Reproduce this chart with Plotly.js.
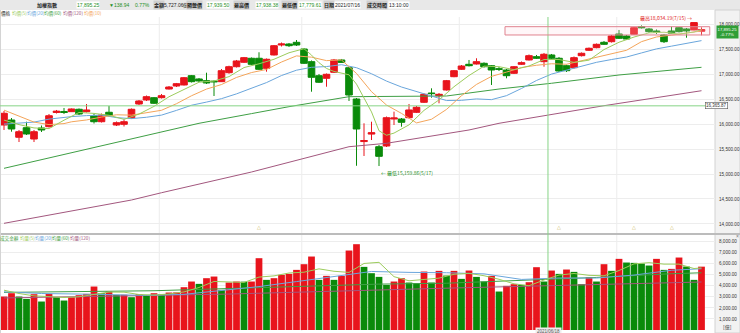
<!DOCTYPE html>
<html><head><meta charset="utf-8">
<script src="https://cdn.plot.ly/plotly-3.0.1.min.js"></script>
<style>html,body{margin:0;padding:0;background:#fff;}#chart{width:740px;height:333px;}</style>
</head><body><div id="chart"></div>
<script>
// ---- data (TAIEX daily, 2021/03/04 - 2021/07/16) ----
const dates = ['03/04','03/05','03/08','03/09','03/10','03/11','03/12','03/15','03/16','03/17','03/18','03/19','03/22','03/23','03/24','03/25','03/26','03/29','03/30','03/31',
'04/01','04/06','04/07','04/08','04/09','04/12','04/13','04/14','04/15','04/16','04/19','04/20','04/21','04/22','04/23','04/26','04/27','04/28','04/29','04/30',
'05/03','05/04','05/05','05/06','05/07','05/10','05/11','05/12','05/13','05/14','05/17','05/18','05/19','05/20','05/21','05/24','05/25','05/26','05/27','05/28','05/31',
'06/01','06/02','06/03','06/04','06/07','06/08','06/09','06/10','06/11','06/15','06/16','06/17','06/18','06/21','06/22','06/23','06/24','06/25','06/28','06/29','06/30',
'07/01','07/02','07/05','07/06','07/07','07/08','07/09','07/12','07/13','07/14','07/15','07/16'];
const open = [15982,16082,15736,15928,15701,15922,15948,16233,16253,16249,16297,16249,16168,16048,16237,15982,15996,16128,16403,16483,
16529,16529,16703,16763,16784,16970,16904,16870,16860,16850,17030,17150,17239,17319,17319,17118,17385,17585,17605,17639,
17505,17251,16970,16918,17038,17285,17130,16503,15650,15800,15547,15561,16102,16102,16128,16236,16437,16623,16569,16683,16950,
17098,17198,17204,17218,17170,17110,17084,17018,17198,17285,17351,17251,17385,17319,17170,17130,17371,17479,17531,17639,17651,
17806,17765,17800,17952,17906,17866,17786,17866,17932,17906,17886,17860];
const high = [16263,16122,15882,16048,15882,15972,16202,16283,16323,16313,16313,16403,16202,16212,16363,16052,16092,16313,16483,16573,
16543,16603,16763,16824,16944,16984,16924,17030,16874,17104,17170,17285,17345,17335,17439,17315,17585,17635,17625,17685,
17525,17275,17004,17014,17305,17305,17140,16523,16016,16048,15581,16152,16249,16122,16403,16363,16613,16717,16623,16884,17084,
17184,17285,17319,17238,17184,17144,17104,17164,17255,17395,17385,17425,17405,17345,17190,17355,17435,17535,17615,17665,17786,
17886,17786,17946,17976,17926,17896,17806,17952,17946,17926,18034.19,17939.50];
const low = [15882,15848,15641,15782,15641,15842,15932,16212,16202,16243,16182,16233,16012,16032,16152,15962,15952,16112,16383,16463,
16403,16513,16693,16743,16774,16834,16844,16804,16563,16844,17010,17134,17224,17184,17084,17050,17375,17555,17545,17565,
17204,16649,16824,16749,17024,17235,16463,15165,15361,15681,15159.86,15541,15982,15948,16112,16222,16423,16529,16417,16673,16940,
17084,17154,17194,17134,16784,17064,16918,17004,17184,17275,17305,17150,17305,17044,17044,17114,17355,17465,17519,17585,17635,
17705,17685,17786,17916,17826,17806,17625,17806,17836,17731,17880,17779.61];
const close = [16217,15902,15848,15802,15848,15882,16168,16259,16233,16303,16202,16283,16048,16182,16168,16028,16048,16297,16463,16549,
16417,16569,16743,16810,16930,16850,16864,16824,16848,17070,17150,17265,17331,17198,17098,17299,17571,17605,17571,17585,
17218,16938,16838,16998,17285,17236,16583,15902,15670,15827,15354,16128,16122,16036,16283,16337,16597,16611,16597,16870,17070,
17164,17170,17251,17150,17084,17098,16970,17150,17231,17371,17319,17399,17319,17064,17070,17331,17419,17519,17599,17599,17765,
17719,17705,17932,17932,17852,17840,17651,17820,17852,17866,18034.19,17895.25];
// turnover, 億元
const volume = [3026,3327,3026,2815,3237,2574,3267,2966,2664,2966,3146,3267,3930,3327,3478,3177,3190,2966,3237,3086,
3327,3237,3388,3400,3870,4382,4171,4684,4834,3629,4292,4382,4370,4382,6492,4533,4684,4985,5075,5437,
5949,6643,4533,4894,4533,4894,7185,7758,5708,5136,4804,4081,4382,4684,4292,4231,5286,4292,5347,4925,5347,
4623,5377,4804,4382,4894,3478,3990,4141,4081,4322,5678,4382,5377,5075,5467,5256,4141,4774,4382,5949,5347,
6432,6100,6070,6010,5829,6432,5437,5527,6552,5739,4533,5727.06];

// moving averages
const ma5Days = ['03/04','03/08','03/10','03/12','03/16','03/18','03/22','03/24','03/26','03/30','04/01','04/07','04/09','04/13','04/15','04/19','04/21','04/23','04/27','04/29','05/03','05/04','05/05','05/06','05/07','05/11','05/12','05/13','05/14','05/17','05/18','05/19','05/21','05/25','05/27','05/31','06/02','06/04','06/08','06/10','06/15','06/17','06/21','06/23','06/25','06/29','07/01','07/05','07/07','07/09','07/13','07/15','07/16'];
const ma5 = [16080,15990,15923,15910,16078,16233,16214,16177,16095,16201,16355,16548,16694,16839,16863,16951,17133,17208,17299,17429,17510,17383,17230,17115,17055,16988,16801,16535,16244,15867,15776,15820,15985,16275,16485,16749,16974,17161,17151,17090,17164,17294,17294,17237,17281,17493,17640,17744,17828,17841,17803,17845,17893];
const maDays = ['03/04','03/08','03/10','03/12','03/16','03/17','03/19','03/23','03/25','03/29','03/31','04/06','04/08','04/12','04/14','04/16','04/20','04/22','04/26','04/28','04/30','05/04','05/06','05/10','05/12','05/14','05/18','05/20','05/24','05/26','05/28','06/01','06/03','06/07','06/09','06/11','06/16','06/18','06/22','06/24','06/28','06/30','07/02','07/06','07/08','07/12','07/14','07/16'];
const ma10 = [16280,16160,16040,15990,16010,16046,16083,16141,16187,16179,16227,16277,16409,16568,16702,16793,16935,17033,17095,17244,17367,17341,17272,17285,17015,16650,16382,16214,16024,16097,16294,16569,16795,16956,17042,17134,17179,17209,17199,17267,17341,17408,17479,17652,17746,17782,17817,17867];
const ma20 = [16000,16020,16040,16100,16140,16150,16170,16180,16130,16110,16137,16180,16275,16378,16441,16510,16606,16721,16832,16973,17080,17138,17153,17190,17130,17009,16862,16743,16655,16556,16472,16476,16505,16490,16570,16714,16874,17002,17078,17155,17238,17294,17344,17426,17507,17562,17613,17673];
const ma60Days = ['03/04','03/24','04/07','04/13','04/22','04/29','05/11','05/20','05/28','06/08','06/18','07/01','07/16'];
const ma60 = [15114,15593,15882,16016,16210,16349,16549,16549,16563,16703,16818,16984,17138];
const ma120Days = ['03/04','03/29','04/06','04/22','05/11','05/18','06/02','06/08','06/29','07/16'];
const ma120 = [14012,14479,14625,15040,15547,15615,15882,16016,16369,16669];

const vma5Days = ['03/04','03/08','03/10','03/12','03/16','03/18','03/22','03/24','03/26','03/30','04/01','04/07','04/09','04/13','04/15','04/19','04/21','04/23','04/27','04/29','05/03','05/05','05/07','05/11','05/13','05/17','05/19','05/21','05/25','05/27','05/31','06/02','06/04','06/08','06/10','06/15','06/17','06/21','06/23','06/25','06/29','07/01','07/05','07/07','07/09','07/13','07/15','07/16'];
const vma5 = [3600,3300,3086,2984,2942,3002,3195,3430,3420,3210,3161,3255,3444,3842,4388,4322,4301,4784,4892,5154,5226,5527,5310,5208,6016,6118,4822,4449,4575,4690,5039,5124,4907,4587,4177,4002,4521,4967,5111,4943,4900,5377,5980,6088,5956,5955,5558,5616];
const vma20Days = ['03/04','03/11','03/18','03/24','03/31','04/09','04/16','04/23','04/30','05/07','05/14','05/21','05/28','06/04','06/11','06/21','06/28','07/05','07/12','07/16'];
const vma20 = [3450,3300,3250,3200,3134,3223,3586,3925,4378,4844,5293,5210,5178,5077,4572,4702,4699,4967,5399,5539];
const vma60Days = ['03/04','04/01','05/03','05/17','05/28','06/11','06/28','07/12','07/16'];
const vma60 = [3400,3550,3950,4150,4230,4484,4751,5088,5174];
const vma120Days = ['03/04','04/19','05/31','06/29','07/16'];
const vma120 = [2900,3250,3800,4150,4340];

const priceTicks = [14000,14500,15000,15500,16000,16500,17000,17500,18000];
const volTicks = [1000,2000,3000,4000,5000,6000,7000,8000];
const refLevel = 16365.87;
const highLabel = '最高18,034.19(7/15)';
const lowLabel = '最低15,159.86(5/17)';
const eventDays = ['04/23','06/21','07/05','07/12'];
const headerLabels = ['加權指數','17,895.25','▼138.94','0.77%','金額','5,727.06','億','開盤價','17,939.50','最高價','17,938.38','最低價','17,779.61','日期','2021/07/16','成交時間','13:10:00'];
const priceLegend = ['價格','均價(5)','均價(20)','均價(60)','均價(120)','均價(10)'];
const volLegend = ['成交金額','均量(5)','均量(20)','均量(60)','均量(120)'];

// ---- styling ----
const RED = '#e8141c', GREEN = '#0a8a0a';
const C5 = '#9ccc5c', C10 = '#f4a55a', C20 = '#6aa6dc', C60 = '#3f9f45', C120 = '#a3577e';
const px = v => v / 740, py = v => 1 - v / 333;
const fmt = v => v.toLocaleString('en-US', {minimumFractionDigits: 2, maximumFractionDigits: 2});
const NUM = 'Liberation Sans Narrow, Liberation Sans, Arial, sans-serif';
const CJK = 'Noto Sans CJK TC, Noto Sans CJK SC, sans-serif';

const volColors = volume.map((v, i) => (i === 0 || v >= volume[i - 1]) ? RED : GREEN);

const line = (x, y, color, ax) => ({type: 'scatter', mode: 'lines', x: x, y: y, xaxis: ax[0], yaxis: ax[1],
  line: {color: color, width: 1}, hoverinfo: 'skip'});

const traces = [
  line(ma120Days, ma120, C120, ['x', 'y']),
  line(ma60Days, ma60, C60, ['x', 'y']),
  line(maDays, ma20, C20, ['x', 'y']),
  line(maDays, ma10, C10, ['x', 'y']),
  line(ma5Days, ma5, C5, ['x', 'y']),
  {type: 'candlestick', x: dates, open: open, high: high, low: low, close: close, xaxis: 'x', yaxis: 'y',
   increasing: {line: {color: RED, width: 1}, fillcolor: RED},
   decreasing: {line: {color: GREEN, width: 1}, fillcolor: GREEN},
   whiskerwidth: 0, hoverinfo: 'skip'},
  {type: 'bar', x: dates, y: volume, xaxis: 'x2', yaxis: 'y2', marker: {color: volColors, line: {width: 0}}, hoverinfo: 'skip'},
  line(vma120Days, vma120, C120, ['x2', 'y2']),
  line(vma60Days, vma60, C60, ['x2', 'y2']),
  line(vma20Days, vma20, C20, ['x2', 'y2']),
  line(vma5Days, vma5, C5, ['x2', 'y2'])
];

const shapes = [
  {type: 'rect', xref: 'paper', yref: 'paper', x0: 0, x1: 1, y0: py(10), y1: 1, fillcolor: '#e8e8e8', line: {width: 0}, layer: 'below'},
  {type: 'rect', xref: 'paper', yref: 'paper', x0: px(715), x1: 1, y0: 0, y1: py(10), fillcolor: '#f2f2f2', line: {color: '#d2d2d2', width: 1}, layer: 'below'},
  {type: 'line', xref: 'paper', yref: 'paper', x0: 0, x1: 1, y0: py(234), y1: py(234), line: {color: '#bcbcbc', width: 2}},
  {type: 'line', xref: 'paper', yref: 'paper', x0: px(0.5), x1: px(0.5), y0: 0, y1: py(10), line: {color: '#d4d4d4', width: 1}}
];
[20.7, 39.7, 60.7, 81.7].forEach(g => shapes.push({type: 'line', xref: 'x', yref: 'paper', x0: g, x1: g, y0: py(331), y1: py(17),
  line: {color: '#ececec', width: 1}, layer: 'below'}));
shapes.push({type: 'line', xref: 'x', yref: 'paper', x0: 72.53, x1: 72.53, y0: py(331), y1: py(17), line: {color: '#86d486', width: 1}});
shapes.push({type: 'line', xref: 'paper', yref: 'y', x0: 0, x1: px(715), y0: refLevel, y1: refLevel, line: {color: '#86d486', width: 1}});
shapes.push({type: 'rect', xref: 'x', yref: 'y', x0: 66.8, x1: 94.1, y0: 17786, y1: 17952,
  line: {color: '#e0838f', width: 1}, fillcolor: 'rgba(255,215,222,0.22)'});

const ann = [];
const T = (text, x, y, o) => ann.push(Object.assign({text: text, x: x, y: y, xref: 'paper', yref: 'paper', showarrow: false,
  xanchor: 'center', yanchor: 'middle', font: {size: 5, color: '#333', family: CJK}}, o || {}));

// header
const hx = [47, 88, 119, 142, 159, 174, 185, 195, 218, 241, 267, 289, 310, 329, 347, 377, 399];
const hGreen = [1, 2, 3, 8, 10, 12];
const hLabel = [4, 7, 9, 11, 13, 15];
const hNum = [1, 2, 3, 5, 8, 10, 12, 14, 16];
headerLabels.forEach((t, i) => {
  const o = {font: {size: 5, family: hNum.includes(i) ? NUM : CJK,
    color: hGreen.includes(i) ? '#1f8f1f' : '#222', weight: (i === 0 || hLabel.includes(i)) ? 'bold' : 'normal'}, borderpad: 0};
  if (hLabel.includes(i)) { o.bgcolor = '#cfcfcf'; }
  if ([1, 8, 10, 12, 14, 16].includes(i)) { o.bgcolor = '#ffffff'; }
  T(t, px(hx[i]), py(5), o);
});
// price legend
const plx = [6, 19, 35.5, 53, 72.5, 92.5], plc = ['#222', C5, C20, C60, C120, C10];
priceLegend.forEach((t, i) => T(t, px(plx[i]), py(13.5), {font: {size: 4.6, family: CJK, color: plc[i]}, borderpad: 0}));
// volume legend
const vlx = [9, 27, 43.5, 61, 80], vlc = ['#3f9f45', C5, C20, C60, C120];
volLegend.forEach((t, i) => T(t, px(vlx[i]), py(238.5), {font: {size: 4.6, family: CJK, color: vlc[i]}, borderpad: 0}));

// high / low markers
ann.push({text: highLabel + ' →', x: '07/15', y: high[92], xref: 'x', yref: 'y', showarrow: false, xanchor: 'right', yanchor: 'bottom',
  xshift: 0, yshift: -1, font: {size: 5, color: '#e02020', family: CJK}});
ann.push({text: '← ' + lowLabel, x: '05/17', y: low[50], xref: 'x', yref: 'y', showarrow: false, xanchor: 'left', yanchor: 'top',
  xshift: 0, yshift: -1, font: {size: 5, color: '#1f8f1f', family: CJK}});
// right-side markers
T(fmt(close[93]) + '<br>-0.77%', px(727.5), py(31.5), {font: {size: 4.3, color: '#ffffff', family: NUM}, bgcolor: '#2f9e36', borderpad: 0.5});
ann.push({text: fmt(refLevel), x: px(727.5), y: refLevel, xref: 'paper', yref: 'y', showarrow: false, font: {size: 4.5, color: '#333', family: NUM},
  bgcolor: '#ffffff', bordercolor: '#555', borderwidth: 0.6, borderpad: 0.5});
T('[億]', px(727), py(327), {font: {size: 5, color: '#333', family: CJK}});
T('×', px(737), py(235.5), {font: {size: 5, color: '#777', family: NUM}});
// event markers
eventDays.forEach(d => ann.push({text: '△', x: d, y: py(231.5), xref: 'x', yref: 'paper', showarrow: false,
  font: {size: 5, color: '#c8b24a', family: NUM}}));
// crosshair date label
T('2021/06/18', px(548), py(331), {font: {size: 4.5, color: '#555', family: NUM}, bgcolor: '#eeeeee'});

const tickfont = {size: 4.6, color: '#333', family: NUM};
const layout = {
  width: 740, height: 333, margin: {l: 0, r: 0, t: 0, b: 0}, paper_bgcolor: '#ffffff', plot_bgcolor: '#ffffff',
  showlegend: false, boxgap: 0.12, boxgroupgap: 0, bargap: 0.1, hovermode: false,
  xaxis: {type: 'category', categoryorder: 'array', categoryarray: dates, domain: [px(1), px(715)], range: [-0.4, 94.8],
    anchor: 'y', showticklabels: false, showgrid: false, zeroline: false, showline: false, ticks: '', rangeslider: {visible: false}, fixedrange: true},
  xaxis2: {type: 'category', categoryorder: 'array', categoryarray: dates, domain: [px(1), px(715)], range: [-0.4, 94.8],
    anchor: 'y2', showticklabels: false, showgrid: false, zeroline: false, showline: false, ticks: '', fixedrange: true},
  yaxis: {domain: [py(232), py(17)], range: [13838, 18146], side: 'right', tickvals: priceTicks, ticktext: priceTicks.map(fmt),
    tickfont: tickfont, gridcolor: '#ededed', gridwidth: 1, zeroline: false, showline: false, ticks: '', ticklen: 0, ticklabelstandoff: 3, fixedrange: true},
  yaxis2: {domain: [py(330), py(236)], range: [0, 8499], side: 'right', tickvals: volTicks, ticktext: volTicks.map(fmt),
    tickfont: tickfont, gridcolor: '#ededed', gridwidth: 1, zeroline: false, showline: false, ticks: '', ticklen: 0, ticklabelstandoff: 3, fixedrange: true},
  shapes: shapes, annotations: ann
};
Plotly.newPlot('chart', traces, layout, {staticPlot: true, displayModeBar: false});
</script></body></html>
